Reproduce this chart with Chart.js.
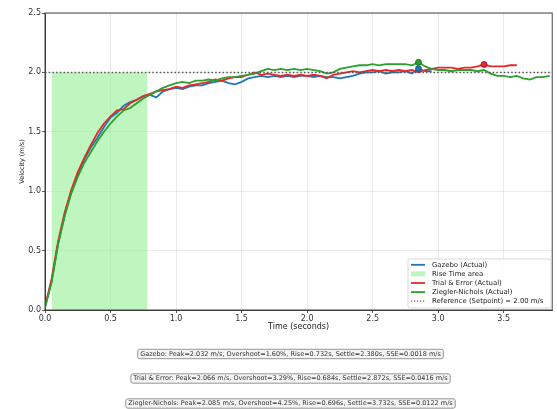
<!DOCTYPE html>
<html>
<head>
<meta charset="utf-8">
<script src="https://cdn.jsdelivr.net/npm/chart.js@4.4.1/dist/chart.umd.min.js"></script>
<style>
html,body{margin:0;padding:0;background:#fff;}
#wrap{width:557px;height:409px;position:relative;}
</style>
</head>
<body>
<div id="wrap"><canvas id="c" width="557" height="409"></canvas></div>
<script>
// ---- data ----
const time = [0.00,0.05,0.10,0.15,0.20,0.25,0.30,0.35,0.40,0.45,0.50,0.55,0.60,0.65,0.70,0.75,0.80,0.85,0.90,0.95,
  1.00,1.05,1.10,1.15,1.20,1.25,1.30,1.35,1.40,1.45,1.50,1.55,1.60,1.65,1.70,1.75,1.80,1.85,1.90,1.95,
  2.00,2.05,2.10,2.15,2.20,2.25,2.30,2.35,2.40,2.45,2.50,2.55,2.60,2.65,2.70,2.75,2.80,2.85,2.90,2.95,
  3.00,3.05,3.10,3.15,3.20,3.25,3.30,3.35,3.40,3.45,3.50,3.55,3.60,3.65,3.70,3.75,3.80,3.85];

const gazebo = [0.02,0.24,0.56,0.80,0.99,1.14,1.27,1.37,1.45,1.54,1.62,1.66,1.72,1.75,1.77,1.80,1.81,1.79,1.84,1.86,
  1.87,1.86,1.88,1.89,1.89,1.91,1.92,1.93,1.91,1.90,1.92,1.95,1.96,1.97,1.96,1.97,1.96,1.97,1.96,1.97,
  1.97,1.96,1.97,1.96,1.96,1.95,1.96,1.97,1.99,2.00,2.00,2.01,1.99,2.00,2.00,2.01,1.99,2.032,2.01,2.01];

const trialError = [0.03,0.26,0.58,0.82,1.01,1.16,1.28,1.39,1.49,1.57,1.63,1.68,1.69,1.74,1.77,1.80,1.82,1.84,1.85,1.86,
  1.88,1.87,1.89,1.90,1.91,1.92,1.94,1.93,1.95,1.96,1.96,1.98,2.00,1.98,1.99,1.98,1.97,1.98,1.97,1.98,
  1.97,1.98,1.97,1.95,1.98,1.99,2.00,2.01,2.00,2.01,2.02,2.01,2.02,2.01,2.02,2.01,2.02,2.00,2.02,2.03,
  2.04,2.04,2.04,2.03,2.04,2.04,2.05,2.066,2.05,2.05,2.05,2.06,2.06];

const zieglerNichols = [0.02,0.23,0.55,0.79,0.98,1.12,1.24,1.33,1.42,1.50,1.57,1.63,1.68,1.70,1.74,1.78,1.81,1.84,1.87,1.89,
  1.91,1.92,1.91,1.93,1.93,1.94,1.93,1.95,1.96,1.96,1.97,1.98,1.99,2.01,2.03,2.02,2.03,2.02,2.03,2.02,
  2.03,2.02,2.01,1.99,2.00,2.03,2.04,2.05,2.06,2.06,2.07,2.06,2.07,2.07,2.07,2.07,2.06,2.085,2.05,2.03,
  2.02,2.02,2.01,2.02,2.02,2.02,2.01,2.02,1.99,1.97,1.97,1.96,1.97,1.95,1.94,1.96,1.96,1.97];

const peakTimes = [2.85, 3.35, 2.85];
const peakValues = [2.032, 2.066, 2.085];
const riseStart = 0.05;
const riseEnd = 0.782;
const setpoint = 2.0;
const xMax = 3.87;

const seriesLabels = ['Gazebo (Actual)', 'Trial & Error (Actual)', 'Ziegler-Nichols (Actual)'];
const riseLabel = 'Rise Time area';
const refLabel = 'Reference (Setpoint) = 2.00 m/s';
const xTicks = [0, 0.5, 1.0, 1.5, 2.0, 2.5, 3.0, 3.5];
const yTicks = [0, 0.5, 1.0, 1.5, 2.0, 2.5];
const metrics = [
  'Gazebo: Peak=2.032 m/s, Overshoot=1.60%, Rise=0.732s, Settle=2.380s, SSE=0.0018 m/s',
  'Trial & Error: Peak=2.066 m/s, Overshoot=3.29%, Rise=0.684s, Settle=2.872s, SSE=0.0416 m/s',
  'Ziegler-Nichols: Peak=2.085 m/s, Overshoot=4.25%, Rise=0.696s, Settle=3.732s, SSE=0.0122 m/s'
];

// ---- styles ----
const colors = ['#1f77b4', '#e8272b', '#2ca02c'];
const peakEdge = ['#174f78', '#8a1518', '#1b641b'];
const riseColor = 'rgba(144,238,144,0.58)';
const FONT = '"DejaVu Sans", sans-serif';

const toXY = (vals) => vals.map((v, i) => ({x: time[i], y: v}));
const series = [gazebo, trialError, zieglerNichols];

const datasets = [];
datasets.push({
  label: riseLabel, data: [{x: riseStart, y: setpoint}, {x: riseEnd, y: setpoint}],
  fill: 'origin', backgroundColor: riseColor, borderWidth: 0, pointRadius: 0, order: 20
});
series.forEach((s, i) => datasets.push({
  label: seriesLabels[i], data: toXY(s), borderColor: colors[i], borderWidth: 1.8,
  pointRadius: 0, fill: false, tension: 0, order: 10 - i
}));
datasets.push({
  label: refLabel, data: [{x: 0, y: setpoint}, {x: xMax, y: setpoint}],
  borderColor: '#555', borderWidth: 1.5, borderDash: [1.5, 2.2], pointRadius: 0, fill: false, order: 3
});
peakTimes.forEach((t, i) => datasets.push({
  label: 'peak' + i, data: [{x: t, y: peakValues[i]}], showLine: false,
  pointRadius: 3, pointBackgroundColor: colors[i], pointBorderColor: peakEdge[i], pointBorderWidth: 0.8, order: 1
}));

const decor = {
  id: 'decor',
  afterDraw(chart) {
    const ctx = chart.ctx, a = chart.chartArea;
    ctx.save();
    // frame
    ctx.strokeStyle = '#333'; ctx.lineWidth = 0.9;
    ctx.strokeRect(a.left, a.top, a.right - a.left, a.bottom - a.top);

    // legend
    const lx = 408, ly = 259, lw = 143, lh = 49;
    ctx.fillStyle = 'rgba(255,255,255,0.82)';
    ctx.strokeStyle = '#cfcfcf'; ctx.lineWidth = 0.8;
    ctx.beginPath(); ctx.roundRect(lx, ly, lw, lh, 2); ctx.fill(); ctx.stroke();
    const entries = [
      {t: seriesLabels[0], kind: 'line', c: colors[0]},
      {t: riseLabel, kind: 'patch', c: riseColor},
      {t: seriesLabels[1], kind: 'line', c: colors[1]},
      {t: seriesLabels[2], kind: 'line', c: colors[2]},
      {t: refLabel, kind: 'dot', c: '#555'}
    ];
    ctx.font = '6.9px ' + FONT; ctx.textBaseline = 'middle'; ctx.textAlign = 'left';
    entries.forEach((e, i) => {
      const y = 264.8 + i * 9.1;
      if (e.kind === 'patch') {
        ctx.fillStyle = e.c; ctx.fillRect(411, y - 2.5, 14, 5);
      } else {
        ctx.strokeStyle = e.c; ctx.lineWidth = e.kind === 'dot' ? 1.2 : 1.8;
        ctx.setLineDash(e.kind === 'dot' ? [1.2, 1.8] : []);
        ctx.beginPath(); ctx.moveTo(411, y); ctx.lineTo(425, y); ctx.stroke();
        ctx.setLineDash([]);
      }
      ctx.fillStyle = '#222'; ctx.fillText(e.t, 432, y + 0.3);
    });

    // metric boxes
    ctx.font = '6.5px ' + FONT; ctx.textAlign = 'center';
    const ys = [354, 378.5, 403.5];
    metrics.forEach((m, i) => {
      const w = ctx.measureText(m).width;
      const cx = 290.5;
      ctx.fillStyle = '#f4f4f4'; ctx.strokeStyle = '#8a8a8a'; ctx.lineWidth = 0.9;
      ctx.beginPath(); ctx.roundRect(cx - w / 2 - 2.5, ys[i] - 4.7, w + 5, 9.4, 2); ctx.fill(); ctx.stroke();
      ctx.fillStyle = '#333'; ctx.fillText(m, cx, ys[i] + 0.3);
    });
    ctx.restore();
  }
};

new Chart(document.getElementById('c'), {
  type: 'line',
  data: {datasets},
  options: {
    responsive: false, animation: false, devicePixelRatio: 1,
    layout: {padding: {top: 13, right: 4, left: 0, bottom: 0}},
    plugins: {legend: {display: false}, tooltip: {enabled: false}},
    scales: {
      x: {
        type: 'linear', min: 0, max: xMax,
        afterFit: (s) => { s.height = 99; },
        afterBuildTicks: (s) => { s.ticks = xTicks.map(v => ({value: v})); },
        ticks: {font: {family: FONT, size: 8}, color: '#333', padding: 1, maxRotation: 0,
          callback: (v) => Number(v).toFixed(1)},
        grid: {color: 'rgba(0,0,0,0.1)', lineWidth: 0.8, tickLength: 3, tickColor: '#333', tickWidth: 0.8},
        border: {display: true, color: '#333', width: 0.9, dash: []},
        title: {display: true, text: 'Time (seconds)', font: {family: FONT, size: 8}, color: '#222',
          padding: {top: 0, bottom: 77}}
      },
      y: {
        min: 0, max: 2.5,
        afterFit: (s) => { s.width = 45; },
        afterBuildTicks: (s) => { s.ticks = yTicks.map(v => ({value: v})); },
        ticks: {font: {family: FONT, size: 8}, color: '#333', padding: 1,
          callback: (v) => Number(v).toFixed(1)},
        grid: {color: 'rgba(0,0,0,0.1)', lineWidth: 0.8, tickLength: 3, tickColor: '#333', tickWidth: 0.8},
        border: {display: true, color: '#333', width: 0.9},
        title: {display: true, text: 'Velocity (m/s)', font: {family: FONT, size: 6.5}, color: '#222',
          padding: {top: 18, bottom: 0}}
      }
    }
  },
  plugins: [decor]
});
</script>
</body>
</html>
